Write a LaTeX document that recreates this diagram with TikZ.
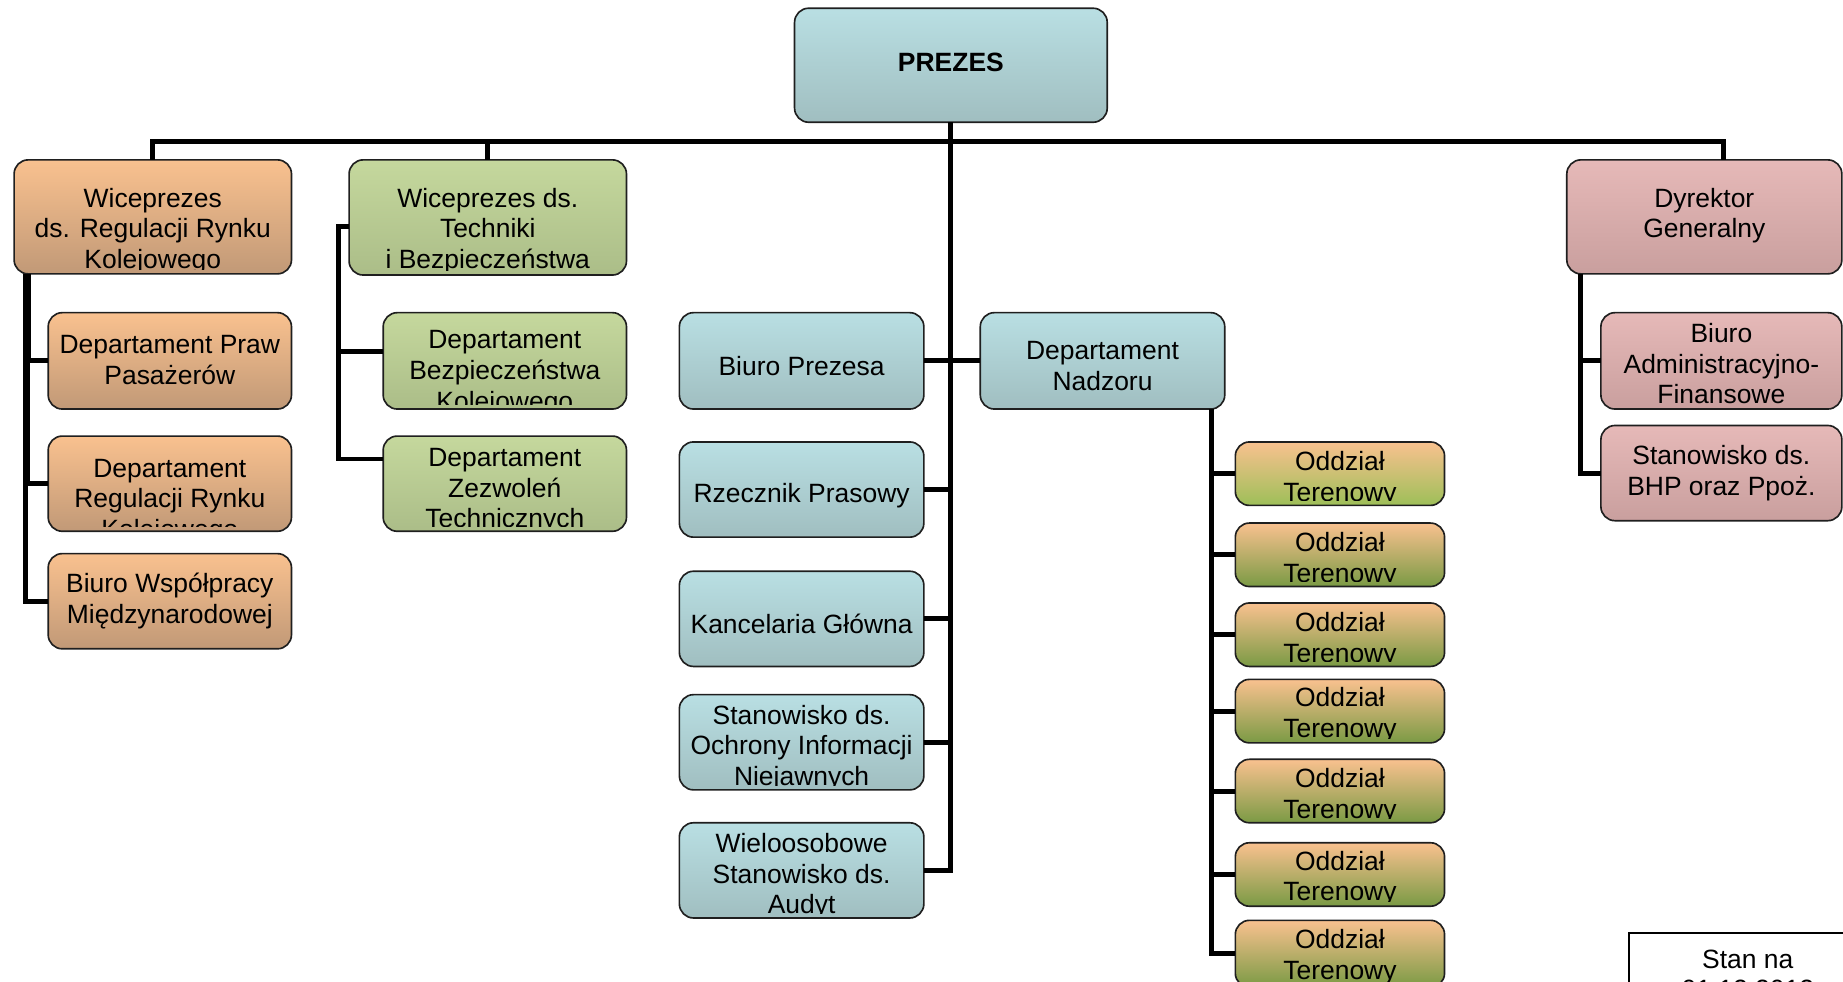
\documentclass[tikz,border=0pt]{standalone}
\usepackage{fontspec}
\setmainfont{Liberation Sans}
\definecolor{blT}{HTML}{B9DFE3}
\definecolor{blB}{HTML}{A0BEC0}
\definecolor{orT}{HTML}{F9C18F}
\definecolor{orB}{HTML}{C19977}
\definecolor{grT}{HTML}{C5D89D}
\definecolor{grB}{HTML}{ABBD88}
\definecolor{pkT}{HTML}{E6B9B8}
\definecolor{pkB}{HTML}{C99F9E}
\definecolor{odB}{HTML}{7A9A44}
\definecolor{odaB}{HTML}{9DBF58}
\newcommand\obox[8]{%
  \node[obx,#2,anchor=north west,minimum width={#5-#3},minimum height={#6-#4}] (#1) at (#3,#4) {};
  \begin{scope}
    \clip[rounded corners=10pt] ({#3+3},{#4+3}) rectangle ({#5-3},{#6-4});
    \node[txt] (#1-t) at ({(#3+#5)/2},{#7+2.5}) {#8};
  \end{scope}}
\begin{document}
\begin{tikzpicture}[x=1pt,y=-1pt,
  obx/.style={draw=black!88,line width=1.4pt,rounded corners=12pt,inner sep=0pt,outer sep=0pt},
  bluebox/.style={top color=blT,bottom color=blB},
  orbox/.style={top color=orT,bottom color=orB},
  grbox/.style={top color=grT,bottom color=grB},
  pkbox/.style={top color=pkT,bottom color=pkB},
  odbox/.style={top color=orT,bottom color=odB},
  odabox/.style={top color=orT,bottom color=odaB},
  txt/.style={align=center,inner sep=0pt,font=\fontsize{22.5}{26}\selectfont},
  conn/.style={line width=4.2pt,draw=black}
]
\useasboundingbox (0,0) rectangle (1568,835);
\clip (0,0) rectangle (1568,835);

\obox{prezes}{bluebox}{676}{7}{942}{104}{51}{\textbf{PREZES}}
\obox{vreg}{orbox}{12}{136}{248}{233}{194}{Wiceprezes\\ds. Regulacji Rynku\\Kolejowego}
\obox{vtech}{grbox}{297}{136}{533}{234}{194}{Wiceprezes ds.\\Techniki\\i Bezpieczeństwa}
\obox{dyr}{pkbox}{1333}{136}{1567}{233}{181}{Dyrektor\\Generalny}

\obox{praw}{orbox}{41}{266}{248}{348}{304}{Departament Praw\\Pasażerów}
\obox{dreg}{orbox}{41}{371}{248}{452}{424}{Departament\\Regulacji Rynku\\Kolejowego}
\obox{bwm}{orbox}{41}{471}{248}{552}{509}{Biuro Współpracy\\Międzynarodowej}

\obox{dbk}{grbox}{326}{266}{533}{348}{315}{Departament\\Bezpieczeństwa\\Kolejowego}
\obox{dzt}{grbox}{326}{371}{533}{452}{415}{Departament\\Zezwoleń\\Technicznych}

\obox{bp}{bluebox}{578}{266}{786}{348}{309}{Biuro Prezesa}
\obox{rp}{bluebox}{578}{376}{786}{457}{419}{Rzecznik Prasowy}
\obox{kg}{bluebox}{578}{486}{786}{567}{528}{Kancelaria Główna}
\obox{soin}{bluebox}{578}{591}{786}{672}{634}{Stanowisko ds.\\Ochrony Informacji\\Niejawnych}
\obox{wsa}{bluebox}{578}{700}{786}{781}{743}{Wieloosobowe\\Stanowisko ds.\\Audyt}

\obox{dn}{bluebox}{834}{266}{1042}{348}{309}{Departament\\Nadzoru}

\obox{o1}{odabox}{1051}{376}{1229}{430}{405}{Oddział\\Terenowy}
\obox{o2}{odbox}{1051}{445}{1229}{499}{474}{Oddział\\Terenowy}
\obox{o3}{odbox}{1051}{513}{1229}{567}{542}{Oddział\\Terenowy}
\obox{o4}{odbox}{1051}{578}{1229}{632}{606}{Oddział\\Terenowy}
\obox{o5}{odbox}{1051}{646}{1229}{700}{675}{Oddział\\Terenowy}
\obox{o6}{odbox}{1051}{717}{1229}{771}{745}{Oddział\\Terenowy}
\obox{o7}{odbox}{1051}{783}{1229}{840}{812}{Oddział\\Terenowy}

\obox{baf}{pkbox}{1362}{266}{1567}{348}{307}{Biuro\\Administracyjno-\\Finansowe}
\obox{bhp}{pkbox}{1362}{362}{1567}{443}{400}{Stanowisko ds.\\BHP oraz Ppoż.}

\node[draw,line width=1.5pt,anchor=north west,minimum width=205,minimum height=100,inner sep=0pt] (stan) at (1385,793) {};
\node[txt] (stan-t) at (1487,829) {Stan na\\01.12.2012};

% connectors
\coordinate (busR) at (1466,120);
\draw[conn] (vreg.north) |- (busR) -- (busR |- dyr.north);
\draw[conn] (vtech.north) -- (vtech.north |- busR);
\draw[conn] (prezes.south) -- (prezes.south |- wsa.east) -- (wsa.east);
\draw[conn] (bp.east) -- (dn.west);
\draw[conn] (rp.east) -- (rp.east -| prezes.south);
\draw[conn] (kg.east) -- (kg.east -| prezes.south);
\draw[conn] (soin.east) -- (soin.east -| prezes.south);

\draw[conn] ([xshift=12pt]vreg.south west) |- (praw.west);
\draw[conn] ([xshift=11pt]vreg.south west) |- (dreg.west);
\draw[conn] ([xshift=10pt]vreg.south west) |- (bwm.west);

\draw[conn] ([yshift=-8pt]vtech.west) -- ++(-9,0) |- ([yshift=8pt]dbk.west);
\draw[conn] ([yshift=-8pt]vtech.west) -- ++(-9,0) |- ([yshift=21pt]dzt.west);

\foreach \o in {o1,o2,o3,o4,o5,o6,o7}
  \draw[conn] ([xshift=-11pt]dn.south east) |- (\o.west);

\draw[conn] ([xshift=12pt]dyr.south west) |- (baf.west);
\draw[conn] ([xshift=12pt]dyr.south west) |- (bhp.west);
\end{tikzpicture}
\end{document}
